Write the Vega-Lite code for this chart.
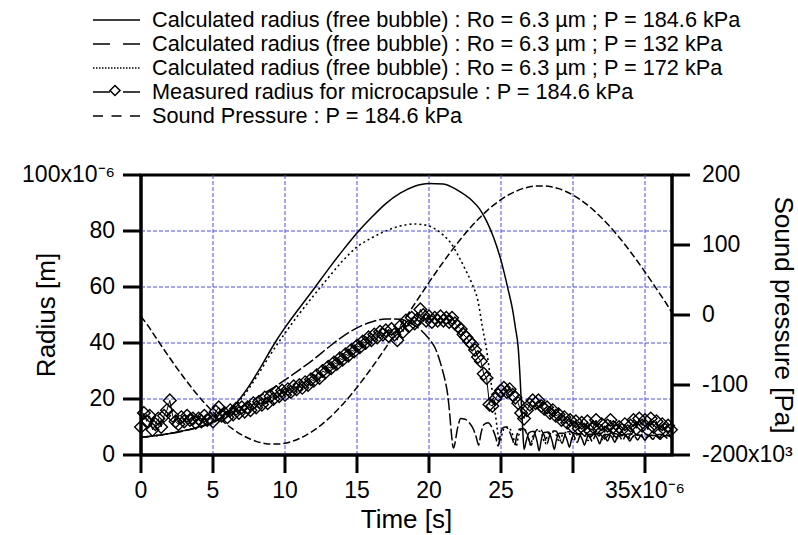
{
  "$schema": "https://vega.github.io/schema/vega-lite/v6.json",
  "width": 531,
  "height": 280,
  "autosize": {"type": "none"},
  "padding": {"left": 141, "top": 175, "right": 126, "bottom": 80},
  "background": "white",
  "config": {
    "view": {"stroke": "black", "strokeWidth": 3},
    "font": "Liberation Sans",
    "axis": {
      "translate": 0,
      "domainColor": "black", "domainWidth": 3,
      "tickColor": "black", "tickWidth": 3, "tickSize": 18,
      "labelFont": "Liberation Sans", "labelFontSize": 23, "labelColor": "black",
      "titleFont": "Liberation Sans", "titleFontSize": 26, "titleFontWeight": "normal", "titleColor": "black",
      "gridColor": "#4a4aff", "gridDash": [4, 2], "gridWidth": 1
    }
  },
  "datasets": {
    "A": [{"t":0,"r":6.3},{"t":1,"r":6.9},{"t":2,"r":7.7},{"t":3,"r":8.7},{"t":4,"r":10.0},{"t":5,"r":11.8},{"t":5.5,"r":13.2},{"t":6,"r":15.2},{"t":6.5,"r":17.8},{"t":7,"r":21},{"t":7.5,"r":24.6},{"t":8,"r":28.7},{"t":8.5,"r":33},{"t":9,"r":37.5},{"t":9.5,"r":41.7},{"t":10,"r":45.5},{"t":11,"r":52.5},{"t":12,"r":59.3},{"t":13,"r":66.3},{"t":14,"r":73},{"t":15,"r":79.3},{"t":16,"r":84.8},{"t":17,"r":89.8},{"t":18,"r":93.5},{"t":19,"r":96},{"t":20,"r":97},{"t":21,"r":96.8},{"t":22,"r":94.5},{"t":23,"r":90.8},{"t":23.5,"r":88},{"t":24,"r":83.5},{"t":24.5,"r":77.5},{"t":25,"r":69.5},{"t":25.5,"r":59},{"t":25.8,"r":52},{"t":26.0,"r":45.5},{"t":26.2,"r":38},{"t":26.3,"r":30},{"t":26.4,"r":20},{"t":26.5,"r":10},{"t":26.6,"r":2},{"t":26.75,"r":5},{"t":26.95,"r":8},{"t":27.25,"r":8.5},{"t":27.5,"r":5},{"t":27.65,"r":1.5},{"t":27.8,"r":5.5},{"t":28.0,"r":8},{"t":28.3,"r":8.2},{"t":28.55,"r":5},{"t":28.7,"r":2},{"t":28.85,"r":5.5},{"t":29.05,"r":7.8},{"t":29.35,"r":7.8},{"t":29.6,"r":5.2},{"t":29.75,"r":2.8},{"t":29.9,"r":5.6},{"t":30.1,"r":7.6},{"t":30.4,"r":7.6},{"t":30.65,"r":5.5},{"t":30.8,"r":3.5},{"t":30.95,"r":5.8},{"t":31.15,"r":7.4},{"t":31.45,"r":7.4},{"t":31.7,"r":5.8},{"t":31.85,"r":4},{"t":32.0,"r":6},{"t":32.2,"r":7.3},{"t":32.5,"r":7.3},{"t":32.75,"r":6},{"t":32.9,"r":4.5},{"t":33.05,"r":6.1},{"t":33.25,"r":7.2},{"t":33.55,"r":7.2},{"t":33.8,"r":6.1},{"t":33.95,"r":5},{"t":34.1,"r":6.2},{"t":34.3,"r":7.1},{"t":34.6,"r":7.1},{"t":34.85,"r":6.2},{"t":35.0,"r":5.3},{"t":35.15,"r":6.3},{"t":35.35,"r":7},{"t":35.65,"r":7},{"t":35.9,"r":6.3},{"t":36.05,"r":5.6},{"t":36.2,"r":6.4},{"t":36.4,"r":6.9},{"t":36.7,"r":6.9},{"t":36.87,"r":6.5}],
    "B": [{"t":0,"r":6.3},{"t":1,"r":6.9},{"t":2,"r":7.6},{"t":3,"r":8.6},{"t":4,"r":9.9},{"t":5,"r":11.6},{"t":6,"r":14.3},{"t":7,"r":17.3},{"t":8,"r":20.3},{"t":9,"r":23.4},{"t":10,"r":26.8},{"t":11,"r":30.4},{"t":12,"r":34.2},{"t":13,"r":38.4},{"t":14,"r":42.3},{"t":15,"r":45.4},{"t":16,"r":47.5},{"t":17,"r":48.6},{"t":18,"r":48.5},{"t":18.5,"r":47.7},{"t":19,"r":46.3},{"t":19.5,"r":44.3},{"t":20,"r":41.5},{"t":20.4,"r":38.5},{"t":20.7,"r":34.5},{"t":20.9,"r":31},{"t":21.1,"r":27},{"t":21.3,"r":21.5},{"t":21.45,"r":14},{"t":21.55,"r":8},{"t":21.7,"r":2.5},{"t":22.0,"r":10},{"t":22.2,"r":13},{"t":22.5,"r":12.8},{"t":22.8,"r":11.5},{"t":23.1,"r":9},{"t":23.3,"r":6},{"t":23.45,"r":3.5},{"t":23.6,"r":7.5},{"t":23.8,"r":10.8},{"t":24.1,"r":11.5},{"t":24.4,"r":9.5},{"t":24.65,"r":6},{"t":24.8,"r":3.2},{"t":24.95,"r":7},{"t":25.1,"r":9.6},{"t":25.35,"r":10},{"t":25.6,"r":8.2},{"t":25.8,"r":5.5},{"t":25.95,"r":3.5},{"t":26.1,"r":7},{"t":26.3,"r":9.3},{"t":26.55,"r":9.5},{"t":26.8,"r":7.5},{"t":27.0,"r":4.5},{"t":27.1,"r":3.5},{"t":27.3,"r":7},{"t":27.5,"r":9},{"t":27.75,"r":9},{"t":28.0,"r":7},{"t":28.2,"r":4},{"t":28.35,"r":6.5},{"t":28.55,"r":8.6},{"t":28.8,"r":8.6},{"t":29.05,"r":6.5},{"t":29.25,"r":4.2},{"t":29.4,"r":6.5},{"t":29.6,"r":8.3},{"t":29.85,"r":8.3},{"t":30.1,"r":6.5},{"t":30.3,"r":4.5},{"t":30.45,"r":6.5},{"t":30.65,"r":8},{"t":30.9,"r":8},{"t":31.15,"r":6.5},{"t":31.35,"r":4.8},{"t":31.5,"r":6.6},{"t":31.7,"r":7.8},{"t":31.95,"r":7.8},{"t":32.2,"r":6.5},{"t":32.4,"r":5},{"t":32.55,"r":6.6},{"t":32.75,"r":7.6},{"t":33.0,"r":7.6},{"t":33.25,"r":6.6},{"t":33.45,"r":5.2},{"t":33.6,"r":6.6},{"t":33.8,"r":7.5},{"t":34.05,"r":7.5},{"t":34.3,"r":6.6},{"t":34.5,"r":5.4},{"t":34.65,"r":6.6},{"t":34.85,"r":7.4},{"t":35.1,"r":7.4},{"t":35.35,"r":6.6},{"t":35.55,"r":5.6},{"t":35.7,"r":6.6},{"t":35.9,"r":7.3},{"t":36.15,"r":7.3},{"t":36.4,"r":6.6},{"t":36.6,"r":5.8},{"t":36.87,"r":6.8}],
    "C": [{"t":0,"r":6.3},{"t":1,"r":6.9},{"t":2,"r":7.7},{"t":3,"r":8.7},{"t":4,"r":9.9},{"t":5,"r":11.6},{"t":6,"r":14.8},{"t":7,"r":20.3},{"t":8,"r":27.7},{"t":9,"r":36},{"t":10,"r":43.5},{"t":11,"r":50.5},{"t":12,"r":57},{"t":13,"r":63.3},{"t":14,"r":69.3},{"t":15,"r":74.3},{"t":16,"r":77.5},{"t":17,"r":80},{"t":18,"r":81.8},{"t":19,"r":82.5},{"t":20,"r":81.8},{"t":20.5,"r":80.5},{"t":21,"r":78.5},{"t":21.5,"r":75.8},{"t":22,"r":71.5},{"t":22.5,"r":66.5},{"t":23,"r":61},{"t":23.4,"r":55},{"t":23.7,"r":46},{"t":24.0,"r":37.5},{"t":24.2,"r":30},{"t":24.4,"r":22.5},{"t":24.6,"r":15},{"t":24.75,"r":9},{"t":24.9,"r":4},{"t":25.05,"r":7},{"t":25.25,"r":9.8},{"t":25.5,"r":10},{"t":25.75,"r":8},{"t":25.95,"r":4.5},{"t":26.05,"r":3},{"t":26.2,"r":6.5},{"t":26.4,"r":9},{"t":26.65,"r":9},{"t":26.9,"r":6.5},{"t":27.05,"r":3.5},{"t":27.2,"r":6.5},{"t":27.4,"r":8.5},{"t":27.65,"r":8.5},{"t":27.9,"r":6.5},{"t":28.05,"r":4},{"t":28.2,"r":6.5},{"t":28.4,"r":8.2},{"t":28.65,"r":8.2},{"t":28.9,"r":6.5},{"t":29.05,"r":4.5},{"t":29.2,"r":6.5},{"t":29.4,"r":8},{"t":29.65,"r":8},{"t":29.9,"r":6.5},{"t":30.05,"r":5},{"t":30.2,"r":6.6},{"t":30.4,"r":7.7},{"t":30.65,"r":7.7},{"t":30.9,"r":6.6},{"t":31.05,"r":5.2},{"t":31.2,"r":6.6},{"t":31.4,"r":7.5},{"t":31.65,"r":7.5},{"t":31.9,"r":6.6},{"t":32.05,"r":5.5},{"t":32.3,"r":7.3},{"t":32.7,"r":7.2},{"t":33.0,"r":5.7},{"t":33.3,"r":7.2},{"t":33.7,"r":7.2},{"t":34.0,"r":5.8},{"t":34.3,"r":7.1},{"t":34.7,"r":7.1},{"t":35.0,"r":6},{"t":35.3,"r":7},{"t":35.7,"r":7},{"t":36.0,"r":6.1},{"t":36.3,"r":6.9},{"t":36.87,"r":6.6}],
    "D": [{"t":0.0,"r":10},{"t":0.2,"r":15},{"t":0.4,"r":12},{"t":0.6,"r":14},{"t":0.8,"r":9},{"t":1.0,"r":11},{"t":1.2,"r":13},{"t":1.4,"r":10},{"t":1.6,"r":14},{"t":1.8,"r":16},{"t":2.0,"r":19.5},{"t":2.2,"r":14},{"t":2.4,"r":12},{"t":2.6,"r":11},{"t":2.8,"r":13.5},{"t":3.0,"r":12},{"t":3.2,"r":14},{"t":3.4,"r":12.5},{"t":3.6,"r":13},{"t":3.8,"r":11.5},{"t":4.0,"r":13},{"t":4.2,"r":12},{"t":4.4,"r":14},{"t":4.6,"r":12.5},{"t":4.8,"r":13},{"t":5.0,"r":12},{"t":5.2,"r":15.5},{"t":5.4,"r":17},{"t":5.6,"r":14},{"t":5.8,"r":15},{"t":6.0,"r":13.5},{"t":6.2,"r":16},{"t":6.4,"r":14.5},{"t":6.6,"r":16.5},{"t":6.8,"r":15},{"t":7.0,"r":17},{"t":7.2,"r":15.5},{"t":7.4,"r":17},{"t":7.6,"r":16},{"t":7.8,"r":18.5},{"t":8.0,"r":17},{"t":8.2,"r":19},{"t":8.4,"r":18},{"t":8.6,"r":20.5},{"t":8.8,"r":18.5},{"t":9.0,"r":21},{"t":9.2,"r":20},{"t":9.4,"r":22.5},{"t":9.6,"r":21},{"t":9.8,"r":23},{"t":10.0,"r":21.5},{"t":10.2,"r":23.5},{"t":10.4,"r":22.5},{"t":10.6,"r":24.5},{"t":10.8,"r":23.5},{"t":11.0,"r":25},{"t":11.2,"r":24},{"t":11.4,"r":26},{"t":11.6,"r":25},{"t":11.8,"r":27},{"t":12.0,"r":26.5},{"t":12.2,"r":28.5},{"t":12.4,"r":27.5},{"t":12.6,"r":30},{"t":12.8,"r":29.5},{"t":13.0,"r":31.5},{"t":13.2,"r":31},{"t":13.4,"r":33},{"t":13.6,"r":32.5},{"t":13.8,"r":34.5},{"t":14.0,"r":34},{"t":14.2,"r":36},{"t":14.4,"r":35.5},{"t":14.6,"r":37.5},{"t":14.8,"r":37},{"t":15.0,"r":39},{"t":15.2,"r":38.5},{"t":15.4,"r":40.5},{"t":15.6,"r":40},{"t":15.8,"r":42},{"t":16.0,"r":41},{"t":16.2,"r":43},{"t":16.4,"r":42},{"t":16.6,"r":44},{"t":16.8,"r":43},{"t":17.0,"r":44.5},{"t":17.2,"r":42.5},{"t":17.4,"r":45},{"t":17.6,"r":43},{"t":17.8,"r":41},{"t":18.0,"r":46},{"t":18.2,"r":44},{"t":18.4,"r":48},{"t":18.6,"r":46},{"t":18.8,"r":49},{"t":19.0,"r":47},{"t":19.2,"r":48.5},{"t":19.4,"r":52},{"t":19.6,"r":50},{"t":19.8,"r":48},{"t":20.0,"r":49.5},{"t":20.2,"r":47.5},{"t":20.4,"r":49},{"t":20.6,"r":48},{"t":20.8,"r":49.5},{"t":21.0,"r":48},{"t":21.2,"r":49},{"t":21.4,"r":47.5},{"t":21.6,"r":49},{"t":21.8,"r":47},{"t":22.0,"r":46},{"t":22.2,"r":45},{"t":22.4,"r":43},{"t":22.6,"r":42},{"t":22.8,"r":40.5},{"t":23.0,"r":39.5},{"t":23.2,"r":37.5},{"t":23.4,"r":35},{"t":23.6,"r":33.5},{"t":23.8,"r":29},{"t":24.0,"r":27.5},{"t":24.2,"r":18},{"t":24.4,"r":17.5},{"t":24.6,"r":20},{"t":24.8,"r":21.5},{"t":25.0,"r":23},{"t":25.2,"r":24},{"t":25.4,"r":22.5},{"t":25.6,"r":23.5},{"t":25.8,"r":21.5},{"t":26.0,"r":20.5},{"t":26.2,"r":18.5},{"t":26.4,"r":15},{"t":26.6,"r":13},{"t":26.8,"r":16},{"t":27.0,"r":18},{"t":27.2,"r":19.5},{"t":27.4,"r":18.5},{"t":27.6,"r":19.5},{"t":27.8,"r":17.5},{"t":28.0,"r":16.5},{"t":28.2,"r":17},{"t":28.4,"r":15},{"t":28.6,"r":16},{"t":28.8,"r":14},{"t":29.0,"r":14.5},{"t":29.2,"r":12.5},{"t":29.4,"r":13.5},{"t":29.6,"r":11.5},{"t":29.8,"r":12.5},{"t":30.0,"r":10},{"t":30.2,"r":12},{"t":30.4,"r":9.5},{"t":30.6,"r":11.5},{"t":30.8,"r":9},{"t":31.0,"r":12},{"t":31.2,"r":8.5},{"t":31.4,"r":10},{"t":31.6,"r":12.5},{"t":31.8,"r":9},{"t":32.0,"r":11},{"t":32.2,"r":8},{"t":32.4,"r":10.5},{"t":32.6,"r":12.5},{"t":32.8,"r":10},{"t":33.0,"r":8.5},{"t":33.2,"r":10},{"t":33.4,"r":9},{"t":33.6,"r":11},{"t":33.8,"r":8.5},{"t":34.0,"r":10.5},{"t":34.2,"r":12.5},{"t":34.4,"r":9.5},{"t":34.6,"r":13},{"t":34.8,"r":10.5},{"t":35.0,"r":12.5},{"t":35.2,"r":9},{"t":35.4,"r":13},{"t":35.6,"r":10},{"t":35.8,"r":12},{"t":36.0,"r":8.5},{"t":36.2,"r":11},{"t":36.4,"r":9},{"t":36.6,"r":10.5},{"t":36.8,"r":9}],
    "S": [{"t":0,"p":-2},{"t":0.5,"p":-15.7},{"t":1,"p":-31.2},{"t":1.5,"p":-46.5},{"t":2,"p":-61.5},{"t":2.5,"p":-76.0},{"t":3,"p":-90.0},{"t":3.5,"p":-103.4},{"t":4,"p":-116.0},{"t":4.5,"p":-127.7},{"t":5,"p":-138.6},{"t":5.5,"p":-148.4},{"t":6,"p":-157.2},{"t":6.5,"p":-164.8},{"t":7,"p":-171.3},{"t":7.5,"p":-176.5},{"t":8,"p":-180.5},{"t":8.5,"p":-183.1},{"t":9,"p":-184.4},{"t":9.5,"p":-184.4},{"t":10,"p":-183.1},{"t":10.5,"p":-180.5},{"t":11,"p":-176.5},{"t":11.5,"p":-171.3},{"t":12,"p":-164.8},{"t":12.5,"p":-157.2},{"t":13,"p":-148.4},{"t":13.5,"p":-138.6},{"t":14,"p":-127.7},{"t":14.5,"p":-116.0},{"t":15,"p":-103.4},{"t":15.5,"p":-90.0},{"t":16,"p":-76.0},{"t":16.5,"p":-61.5},{"t":17,"p":-46.5},{"t":17.5,"p":-31.2},{"t":18,"p":-15.7},{"t":18.5,"p":0},{"t":19,"p":15.7},{"t":19.5,"p":31.2},{"t":20,"p":46.5},{"t":20.5,"p":61.5},{"t":21,"p":76.0},{"t":21.5,"p":90.0},{"t":22,"p":103.4},{"t":22.5,"p":116.0},{"t":23,"p":127.7},{"t":23.5,"p":138.6},{"t":24,"p":148.4},{"t":24.5,"p":157.2},{"t":25,"p":164.8},{"t":25.5,"p":171.3},{"t":26,"p":176.5},{"t":26.5,"p":180.5},{"t":27,"p":183.1},{"t":27.5,"p":184.4},{"t":28,"p":184.4},{"t":28.5,"p":183.1},{"t":29,"p":180.5},{"t":29.5,"p":176.5},{"t":30,"p":171.3},{"t":30.5,"p":164.8},{"t":31,"p":157.2},{"t":31.5,"p":148.4},{"t":32,"p":138.6},{"t":32.5,"p":127.7},{"t":33,"p":116.0},{"t":33.5,"p":103.4},{"t":34,"p":90.0},{"t":34.5,"p":76.0},{"t":35,"p":61.5},{"t":35.5,"p":46.5},{"t":36,"p":31.2},{"t":36.5,"p":15.7},{"t":36.87,"p":3.1}],
    "L": [
      {"series": "Calculated radius (free bubble) : Ro = 6.3 µm ; P = 184.6 kPa"},
      {"series": "Calculated radius (free bubble) : Ro = 6.3 µm ; P = 132 kPa"},
      {"series": "Calculated radius (free bubble) : Ro = 6.3 µm ; P = 172 kPa"},
      {"series": "Measured radius for microcapsule : P = 184.6 kPa"},
      {"series": "Sound Pressure : P = 184.6 kPa"}
    ]
  },
  "resolve": {"scale": {"y": "independent"}},
  "encoding": {
    "x": {
      "field": "t", "type": "quantitative",
      "scale": {"domain": [0, 36.875], "nice": false, "zero": false},
      "axis": {
        "title": "Time [s]", "values": [0, 5, 10, 15, 20, 25, 30, 35],
        "labelExpr": "datum.value == 30 ? '' : datum.value == 35 ? '35x10⁻⁶' : datum.label",
        "labelFlush": false, "labelOverlap": false, "labelPadding": 7, "titlePadding": 4,
        "grid": true,
        "gridOpacity": {"condition": {"test": "datum.value <= 0", "value": 0}, "value": 1}
      }
    }
  },
  "layer": [
    {
      "encoding": {
        "y": {
          "field": "r", "type": "quantitative",
          "scale": {"domain": [0, 100], "nice": false, "zero": false},
          "axis": {
            "orient": "left", "title": "Radius [m]", "values": [0, 20, 40, 60, 80, 100],
            "labelExpr": "datum.value == 100 ? '100x10⁻⁶' : datum.label",
            "labelOverlap": false, "labelPadding": 8,
            "titleX": -94, "titleY": 140, "titleAngle": -90, "titleBaseline": "middle", "titleAlign": "center",
            "grid": true,
            "gridOpacity": {"condition": {"test": "datum.value <= 0 || datum.value >= 100", "value": 0}, "value": 1}
          }
        }
      },
      "layer": [
        {"data": {"name": "A"}, "mark": {"type": "line", "color": "black", "strokeWidth": 1.5, "interpolate": "monotone"}},
        {"data": {"name": "B"}, "mark": {"type": "line", "color": "black", "strokeWidth": 1.5, "strokeDash": [12, 3], "interpolate": "monotone"}},
        {"data": {"name": "C"}, "mark": {"type": "line", "color": "black", "strokeWidth": 1.6, "strokeDash": [2, 3], "interpolate": "monotone"}},
        {"data": {"name": "D"}, "mark": {"type": "line", "color": "black", "strokeWidth": 1}},
        {
          "data": {"name": "D"},
          "mark": {"type": "point", "shape": "diamond", "filled": false, "color": "black", "size": 160, "strokeWidth": 1.4, "opacity": 1},
          "encoding": {
            "shape": {
              "datum": "m", "type": "nominal",
              "scale": {"domain": ["m"], "range": ["diamond"]},
              "legend": {
                "orient": "none", "legendX": -32, "legendY": -90.5, "title": null,
                "labelExpr": "''", "labelFontSize": 8, "labelOffset": 0, "padding": 0,
                "symbolStrokeColor": "black", "symbolStrokeWidth": 1.5, "symbolOpacity": 1
              }
            }
          }
        },
        {
          "data": {"name": "L"},
          "mark": {"type": "line", "color": "black", "strokeWidth": 1.5},
          "encoding": {
            "strokeDash": {
              "field": "series", "type": "nominal",
              "scale": {
                "domain": [
                  "Calculated radius (free bubble) : Ro = 6.3 µm ; P = 184.6 kPa",
                  "Calculated radius (free bubble) : Ro = 6.3 µm ; P = 132 kPa",
                  "Calculated radius (free bubble) : Ro = 6.3 µm ; P = 172 kPa",
                  "Measured radius for microcapsule : P = 184.6 kPa",
                  "Sound Pressure : P = 184.6 kPa"
                ],
                "range": [[1, 0], [17, 13], [1.5, 1.5], [17, 13, 17], [10, 8.5]]
              },
              "legend": {
                "orient": "none", "legendX": -49, "legendY": -166, "direction": "vertical",
                "title": null, "labelFont": "Liberation Sans", "labelFontSize": 21.7, "labelColor": "black",
                "labelLimit": 0, "labelOffset": 38, "symbolType": "M-1,0L3.7,0", "symbolSize": 400,
                "symbolStrokeWidth": 1.5, "symbolStrokeColor": "black", "symbolOpacity": 1,
                "rowPadding": 1, "padding": 0
              }
            }
          }
        }
      ]
    },
    {
      "data": {"name": "S"},
      "mark": {"type": "line", "color": "black", "strokeWidth": 1.5, "strokeDash": [7, 3], "interpolate": "monotone"},
      "encoding": {
        "y": {
          "field": "p", "type": "quantitative",
          "scale": {"domain": [-200, 200], "nice": false, "zero": false},
          "axis": {
            "orient": "right", "title": "Sound pressure [Pa]", "values": [-200, -100, 0, 100, 200],
            "labelExpr": "datum.value == -200 ? '-200x10³' : '' + datum.value",
            "labelOverlap": false, "labelPadding": 12, "grid": false,
            "titleX": 111, "titleY": 140, "titleAngle": 90, "titleBaseline": "middle", "titleAlign": "center"
          }
        }
      }
    }
  ]
}
